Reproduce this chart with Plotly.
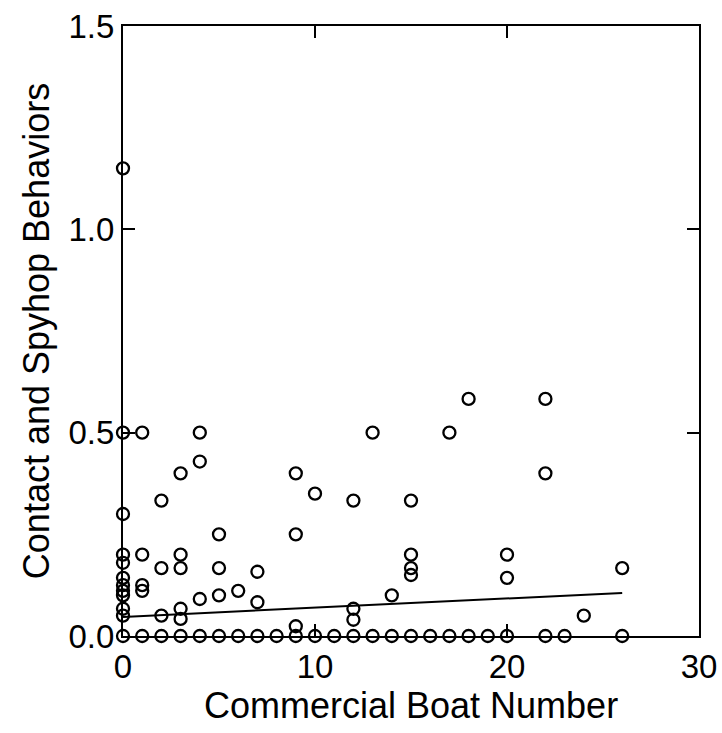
import plotly.graph_objects as go

# Observed data: commercial boat number vs contact/spyhop behaviour rate
boat_number = (
    [0]*12 + [1]*5 + [2]*4 + [3]*6 + [4]*4 + [5]*4 + [6]*2 + [7]*3 + [8]
    + [9]*4 + [10]*2 + [11] + [12]*4 + [13]*2 + [14]*2 + [15]*5 + [16]
    + [17]*2 + [18]*2 + [19] + [20]*3 + [22]*3 + [23] + [24] + [26]*2
)
behaviors = [
    1.15, 0.5, 0.3, 0.2, 0.18, 0.143, 0.125, 0.111, 0.1, 0.067, 0.05, 0,   # 0
    0.5, 0.2, 0.125, 0.111, 0,                                             # 1
    0.333, 0.167, 0.05, 0,                                                 # 2
    0.4, 0.2, 0.167, 0.067, 0.042, 0,                                      # 3
    0.5, 0.429, 0.091, 0,                                                  # 4
    0.25, 0.167, 0.1, 0,                                                   # 5
    0.111, 0,                                                              # 6
    0.158, 0.083, 0,                                                       # 7
    0,                                                                     # 8
    0.4, 0.25, 0.024, 0,                                                   # 9
    0.35, 0,                                                               # 10
    0,                                                                     # 11
    0.333, 0.067, 0.04, 0,                                                 # 12
    0.5, 0,                                                                # 13
    0.1, 0,                                                                # 14
    0.333, 0.2, 0.167, 0.15, 0,                                            # 15
    0,                                                                     # 16
    0.5, 0,                                                                # 17
    0.583, 0,                                                              # 18
    0,                                                                     # 19
    0.2, 0.143, 0,                                                         # 20
    0.583, 0.4, 0,                                                         # 22
    0,                                                                     # 23
    0.05,                                                                  # 24
    0.167, 0,                                                              # 26
]

# Fitted regression line end points
fit_x = [0, 26]
fit_y = [0.047, 0.106]

x_ticks = [0, 10, 20, 30]
y_ticks = [0.0, 0.5, 1.0, 1.5]

x_title = "Commercial Boat Number"
y_title = "Contact and Spyhop Behaviors"

FONT = "Liberation Sans, Arial, Helvetica, sans-serif"

fig = go.Figure()
fig.add_trace(go.Scatter(
    x=fit_x, y=fit_y, mode="lines",
    line=dict(color="black", width=2),
    showlegend=False, hoverinfo="skip",
))
fig.add_trace(go.Scatter(
    x=boat_number, y=behaviors, mode="markers",
    marker=dict(symbol="circle-open", size=12, color="black",
                line=dict(color="black", width=2.3)),
    cliponaxis=False, showlegend=False,
))

axis_common = dict(
    showgrid=False, zeroline=False, showline=True, linecolor="black",
    linewidth=2, mirror="ticks", ticks="inside", ticklen=12, tickwidth=2,
    tickcolor="black", tickfont=dict(family=FONT, size=33, color="black"),
    automargin=False,
)

fig.update_layout(
    width=722, height=733,
    margin=dict(l=123, r=23, t=26, b=97),
    paper_bgcolor="white", plot_bgcolor="white",
    font=dict(family=FONT, color="black"),
    xaxis=dict(range=[0, 30], tickvals=x_ticks, **axis_common),
    yaxis=dict(range=[0, 1.5], tickvals=y_ticks, tickformat=".1f",
               ticklabelstandoff=0,
               title=dict(text=y_title,
                          font=dict(family=FONT, size=36), standoff=8),
               **axis_common),
    annotations=[dict(
        text=x_title, xref="paper", yref="paper", x=0.5, y=0,
        xanchor="center", yanchor="middle", yshift=-69, showarrow=False,
        font=dict(family=FONT, size=36, color="black"),
    )],
)

fig.write_html("out.html")
